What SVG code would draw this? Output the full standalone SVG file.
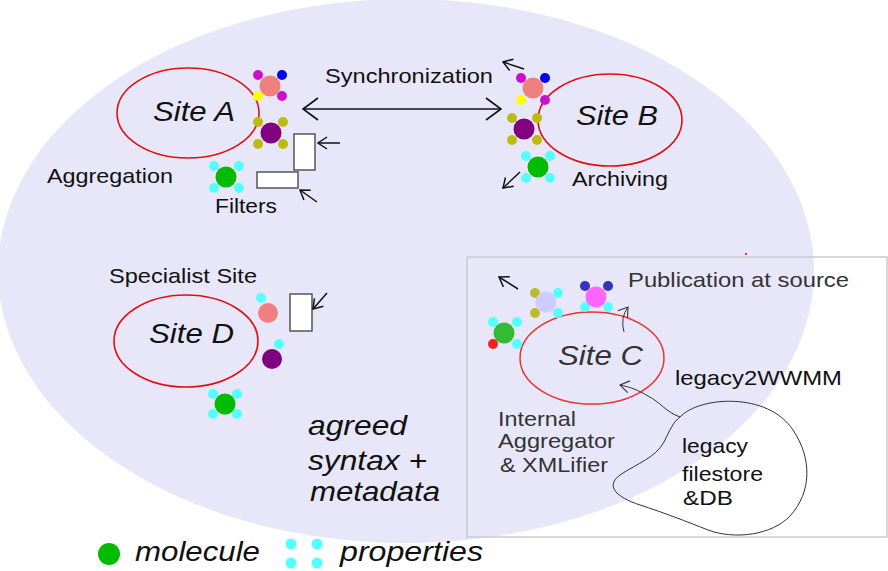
<svg xmlns="http://www.w3.org/2000/svg" width="888" height="571" viewBox="0 0 888 571">
<style>
text{font-family:"Liberation Sans",Arial,sans-serif;fill:#111}
.lbl{font-size:21px}
.site{font-size:27px;font-style:italic}
.big{font-size:28px;font-style:italic}
.ring{fill:none;stroke:#e01010;stroke-width:1.6}
.flt{fill:#fff;stroke:#555;stroke-width:1.5}
.ln{fill:none;stroke:#111;stroke-width:1.5}
.thin{fill:none;stroke:#333;stroke-width:1}
.mol{stroke:none}
</style>
<defs>
<marker id="ahBig" viewBox="0 0 17 24" refX="16" refY="12" markerWidth="17" markerHeight="24" orient="auto-start-reverse" markerUnits="userSpaceOnUse">
<path d="M1,1 L16,12 L1,23" fill="none" stroke="#111" stroke-width="1.6"/>
</marker>
<marker id="ah" viewBox="0 0 11 14" refX="10" refY="7" markerWidth="11" markerHeight="14" orient="auto" markerUnits="userSpaceOnUse">
<path d="M1,1 L10,7 L1,13" fill="none" stroke="#111" stroke-width="1.5"/>
</marker>
<marker id="ahThin" viewBox="0 0 11 14" refX="10" refY="7" markerWidth="11" markerHeight="14" orient="auto" markerUnits="userSpaceOnUse">
<path d="M1,1 L10,7 L1,13" fill="none" stroke="#333" stroke-width="1.1"/>
</marker>
</defs>
<rect width="888" height="571" fill="#fff"/>
<ellipse id="domain" cx="406" cy="271" rx="408" ry="272" fill="#e7e7f9"/>
<circle cx="746" cy="254" r="1" fill="#e00"/>
<rect id="siteCBox" x="467" y="257" width="420" height="280" fill="none" stroke="#ccc" stroke-width="1.5"/>

<g id="siteA">
<ellipse class="ring" cx="188" cy="113" rx="71" ry="45"/>
<text class="site" x="153" y="121" textLength="82" lengthAdjust="spacingAndGlyphs">Site A</text>
<text class="lbl" x="47" y="183" textLength="126" lengthAdjust="spacingAndGlyphs">Aggregation</text>
<circle cx="258" cy="75" r="5" fill="#c1c"/>
<circle cx="282" cy="75" r="5" fill="#0000ee"/>
<circle cx="258" cy="96" r="5" fill="#ff0"/>
<circle cx="282" cy="96" r="5" fill="#c1c"/>
<circle cx="270" cy="86" r="10.5" fill="#f08080"/>
<circle cx="258" cy="122" r="5" fill="#bb1"/>
<circle cx="283" cy="122" r="5" fill="#bb1"/>
<circle cx="258" cy="144" r="5" fill="#bb1"/>
<circle cx="283" cy="144" r="5" fill="#bb1"/>
<circle cx="271" cy="133" r="10.5" fill="#800080"/>
<circle cx="214" cy="166" r="5" fill="#5ff"/>
<circle cx="239" cy="166" r="5" fill="#5ff"/>
<circle cx="214" cy="188" r="5" fill="#5ff"/>
<circle cx="239" cy="188" r="5" fill="#5ff"/>
<circle cx="226" cy="177" r="10.5" fill="#0b0"/>
</g>

<g id="filters">
<rect class="flt" x="294" y="134" width="21" height="36"/>
<rect class="flt" x="257" y="172" width="41" height="16"/>
<text class="lbl" x="215" y="213" textLength="62" lengthAdjust="spacingAndGlyphs">Filters</text>
</g>

<g id="siteB">
<ellipse class="ring" cx="610" cy="120" rx="72" ry="46"/>
<text class="site" x="576" y="125" textLength="82" lengthAdjust="spacingAndGlyphs">Site B</text>
<text class="lbl" x="572" y="186" textLength="96" lengthAdjust="spacingAndGlyphs">Archiving</text>
<circle cx="521" cy="78" r="5" fill="#c1c"/>
<circle cx="545" cy="78" r="5" fill="#0000ee"/>
<circle cx="521" cy="100" r="5" fill="#ff0"/>
<circle cx="545" cy="100" r="5" fill="#c1c"/>
<circle cx="533" cy="88" r="10.5" fill="#f08080"/>
<circle cx="512" cy="118" r="5" fill="#bb1"/>
<circle cx="537" cy="118" r="5" fill="#bb1"/>
<circle cx="512" cy="140" r="5" fill="#bb1"/>
<circle cx="537" cy="140" r="5" fill="#bb1"/>
<circle cx="524" cy="129" r="10.5" fill="#800080"/>
<circle cx="526" cy="156" r="5" fill="#5ff"/>
<circle cx="550" cy="156" r="5" fill="#5ff"/>
<circle cx="526" cy="178" r="5" fill="#5ff"/>
<circle cx="550" cy="178" r="5" fill="#5ff"/>
<circle cx="538" cy="167" r="10.5" fill="#0b0"/>
</g>

<g id="siteD">
<text class="lbl" x="109" y="283" textLength="148" lengthAdjust="spacingAndGlyphs">Specialist Site</text>
<ellipse class="ring" cx="186" cy="341" rx="72" ry="46"/>
<text class="site" x="149" y="343" textLength="85" lengthAdjust="spacingAndGlyphs">Site D</text>
<circle cx="261" cy="298" r="5" fill="#5ff"/>
<circle cx="268" cy="313" r="10" fill="#f08080"/>
<circle cx="279" cy="344" r="5" fill="#5ff"/>
<circle cx="272" cy="359" r="10" fill="#800080"/>
<circle cx="213" cy="394" r="5" fill="#5ff"/>
<circle cx="237" cy="394" r="5" fill="#5ff"/>
<circle cx="213" cy="414" r="5" fill="#5ff"/>
<circle cx="237" cy="414" r="5" fill="#5ff"/>
<circle cx="225" cy="404" r="10.5" fill="#0b0"/>
<rect class="flt" x="290" y="294" width="22" height="37"/>
</g>

<g id="siteC">
<ellipse cx="592" cy="358" rx="72" ry="46" fill="none" stroke="#e33" stroke-width="1.5"/>
<text class="site" x="558" y="365" textLength="85" lengthAdjust="spacingAndGlyphs" style="fill:#333">Site C</text>
<circle cx="493" cy="322" r="5" fill="#5ff"/>
<circle cx="517" cy="322" r="5" fill="#5ff"/>
<circle cx="493" cy="344" r="5" fill="#e22"/>
<circle cx="517" cy="344" r="5" fill="#5ff"/>
<circle cx="504" cy="333" r="10.5" fill="#3b3"/>
<circle cx="535" cy="293" r="5" fill="#bb3"/>
<circle cx="558" cy="293" r="5" fill="#5ff"/>
<circle cx="535" cy="313" r="5" fill="#bb3"/>
<circle cx="558" cy="313" r="5" fill="#5ff"/>
<circle cx="546" cy="302" r="10.5" fill="#ccf"/>
<circle cx="585" cy="286" r="5" fill="#33b"/>
<circle cx="608" cy="286" r="5" fill="#33b"/>
<circle cx="585" cy="307" r="5" fill="#5ff"/>
<circle cx="608" cy="307" r="5" fill="#5ff"/>
<circle cx="596" cy="297" r="10.5" fill="#f6f"/>
<text class="lbl" x="628" y="287" textLength="221" lengthAdjust="spacingAndGlyphs" style="fill:#333">Publication at source</text>
<text class="lbl" x="675" y="385" textLength="167" lengthAdjust="spacingAndGlyphs">legacy2WWMM</text>
<text class="lbl" x="498" y="426" textLength="78" lengthAdjust="spacingAndGlyphs" style="fill:#333">Internal</text>
<text class="lbl" x="498" y="448" textLength="117" lengthAdjust="spacingAndGlyphs" style="fill:#333">Aggregator</text>
<text class="lbl" x="500" y="472" textLength="108" lengthAdjust="spacingAndGlyphs" style="fill:#333">&amp; XMLifier</text>
</g>

<g id="legacyStore">
<path class="thin" d="M680,417 C700,396 768,392 793,430 C812,458 812,492 790,516 C772,535 735,540 708,530 C688,522 662,512 640,505 C616,497 605,486 620,475 C638,463 655,458 664,442 C670,430 673,422 680,417 Z"/>
<text class="lbl" x="682" y="453" textLength="66" lengthAdjust="spacingAndGlyphs">legacy</text>
<text class="lbl" x="682" y="481" textLength="81" lengthAdjust="spacingAndGlyphs">filestore</text>
<text class="lbl" x="683" y="505" textLength="50" lengthAdjust="spacingAndGlyphs">&amp;DB</text>
</g>

<g id="connectors">
<line class="ln" x1="303" y1="109" x2="501" y2="109" marker-start="url(#ahBig)" marker-end="url(#ahBig)"/>
<text class="lbl" x="325" y="83" textLength="168" lengthAdjust="spacingAndGlyphs">Synchronization</text>
<line class="ln" x1="340" y1="143" x2="318" y2="143" marker-end="url(#ah)"/>
<line class="ln" x1="317" y1="202" x2="300" y2="190" marker-end="url(#ah)"/>
<line class="ln" x1="524" y1="69" x2="503" y2="62" marker-end="url(#ah)"/>
<line class="ln" x1="520" y1="172" x2="503" y2="188" marker-end="url(#ah)"/>
<line class="ln" x1="327" y1="293" x2="313" y2="309" marker-end="url(#ah)"/>
<line class="ln" x1="518" y1="289" x2="499" y2="277" marker-end="url(#ah)"/>
<path class="thin" d="M624,332 Q620,318 628,307" marker-end="url(#ahThin)"/>
<path class="thin" d="M680,417 C666,412 660,402 648,396 C638,390 630,387 620,385" marker-end="url(#ahThin)"/>
</g>

<g id="motto">
<text class="big" x="308" y="435" textLength="99" lengthAdjust="spacingAndGlyphs">agreed</text>
<text class="big" x="308" y="470" textLength="119" lengthAdjust="spacingAndGlyphs">syntax +</text>
<text class="big" x="310" y="501" textLength="130" lengthAdjust="spacingAndGlyphs">metadata</text>
</g>

<g id="legend">
<circle cx="109" cy="554" r="11" fill="#0b0"/>
<text class="big" x="135" y="561" textLength="125" lengthAdjust="spacingAndGlyphs">molecule</text>
<circle cx="291" cy="544" r="5.5" fill="#5ff"/>
<circle cx="317" cy="544" r="5.5" fill="#5ff"/>
<circle cx="291" cy="563" r="5.5" fill="#5ff"/>
<circle cx="317" cy="563" r="5.5" fill="#5ff"/>
<text class="big" x="340" y="561" textLength="143" lengthAdjust="spacingAndGlyphs">properties</text>
</g>
</svg>
